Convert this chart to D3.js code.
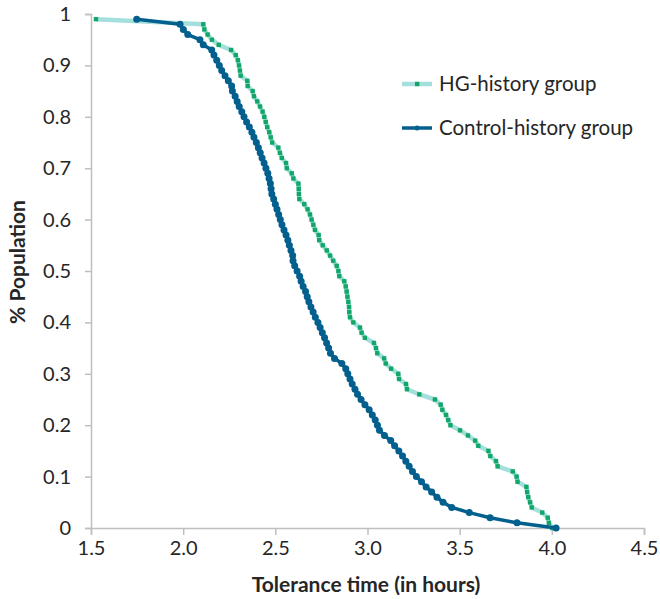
<!DOCTYPE html>
<html>
<head>
<meta charset="utf-8">
<script src="https://cdn.jsdelivr.net/npm/d3@7"></script>
<style>
  body { margin: 0; background: #fff; }
  svg text { font-family: Lato, "Open Sans", sans-serif; fill: #262626; }
</style>
</head>
<body>
<svg id="chart" width="660" height="599"></svg>
<script>
// survival fraction levels shared by both groups
var levels = [0.99, 0.98, 0.97, 0.96, 0.95, 0.94, 0.93, 0.92, 0.91, 0.90,
    0.89, 0.88, 0.87, 0.86, 0.85, 0.84, 0.83, 0.82, 0.81, 0.80,
    0.79, 0.78, 0.77, 0.76, 0.75, 0.74, 0.73, 0.72, 0.71, 0.70,
    0.69, 0.68, 0.67, 0.66, 0.65, 0.64, 0.63, 0.62, 0.61, 0.60,
    0.59, 0.58, 0.57, 0.56, 0.55, 0.54, 0.53, 0.52, 0.51, 0.50,
    0.49, 0.48, 0.47, 0.46, 0.45, 0.44, 0.43, 0.42, 0.41, 0.40,
    0.39, 0.38, 0.37, 0.36, 0.35, 0.34, 0.33, 0.32, 0.31, 0.30,
    0.29, 0.28, 0.27, 0.26, 0.25, 0.24, 0.23, 0.22, 0.21, 0.20,
    0.19, 0.18, 0.17, 0.16, 0.15, 0.14, 0.13, 0.12, 0.11, 0.10,
    0.09, 0.08, 0.07, 0.06, 0.05, 0.04, 0.03, 0.02, 0.01, 0.00];

// tolerance time (hours) for each level
var hgHours = [1.527, 2.109, 2.115, 2.133, 2.156, 2.193, 2.260, 2.285, 2.297, 2.303,
    2.308, 2.312, 2.348, 2.350, 2.377, 2.384, 2.402, 2.417, 2.431, 2.440,
    2.448, 2.456, 2.467, 2.475, 2.483, 2.516, 2.525, 2.535, 2.558, 2.562,
    2.589, 2.598, 2.625, 2.627, 2.628, 2.630, 2.657, 2.675, 2.688, 2.697,
    2.706, 2.715, 2.735, 2.738, 2.757, 2.779, 2.797, 2.814, 2.833, 2.842,
    2.847, 2.874, 2.882, 2.887, 2.891, 2.896, 2.900, 2.901, 2.905, 2.923,
    2.959, 2.968, 2.986, 3.035, 3.046, 3.053, 3.090, 3.099, 3.128, 3.167,
    3.171, 3.209, 3.214, 3.281, 3.366, 3.397, 3.406, 3.426, 3.438, 3.450,
    3.502, 3.545, 3.584, 3.601, 3.656, 3.666, 3.697, 3.706, 3.788, 3.809,
    3.814, 3.862, 3.866, 3.872, 3.882, 3.891, 3.948, 3.978, 3.984, 4.002];

var controlHours = [1.748, 1.983, 2.001, 2.025, 2.091, 2.109, 2.155, 2.167, 2.182, 2.196,
    2.209, 2.227, 2.245, 2.263, 2.267, 2.282, 2.293, 2.304, 2.318, 2.330,
    2.344, 2.359, 2.373, 2.384, 2.397, 2.408, 2.418, 2.428, 2.439, 2.449,
    2.459, 2.466, 2.473, 2.477, 2.481, 2.491, 2.500, 2.509, 2.518, 2.527,
    2.536, 2.547, 2.558, 2.568, 2.576, 2.585, 2.594, 2.596, 2.605, 2.618,
    2.632, 2.640, 2.651, 2.664, 2.673, 2.682, 2.693, 2.705, 2.717, 2.731,
    2.743, 2.755, 2.767, 2.778, 2.789, 2.799, 2.821, 2.861, 2.882, 2.893,
    2.905, 2.917, 2.932, 2.946, 2.965, 2.986, 3.009, 3.026, 3.042, 3.054,
    3.065, 3.092, 3.126, 3.147, 3.170, 3.190, 3.208, 3.226, 3.244, 3.265,
    3.293, 3.318, 3.348, 3.377, 3.410, 3.457, 3.552, 3.665, 3.811, 4.023];

var xTicks = [1.5, 2.0, 2.5, 3.0, 3.5, 4.0, 4.5];
var yTicks = [0, 0.1, 0.2, 0.3, 0.4, 0.5, 0.6, 0.7, 0.8, 0.9, 1];
var seriesNames = ["HG-history group", "Control-history group"];

var svg = d3.select("#chart");
var margin = { left: 91, right: 16, top: 14, bottom: 71 };
var width = 660 - margin.left - margin.right;
var height = 599 - margin.top - margin.bottom;

var g = svg.append("g")
    .attr("transform", "translate(" + margin.left + "," + margin.top + ")");

var x = d3.scaleLinear().domain([1.5, 4.5]).range([0, width]);
var y = d3.scaleLinear().domain([0, 1]).range([height, 0]);

// Axes
var xAxis = g.append("g")
    .attr("class", "x-axis")
    .attr("transform", "translate(0," + height + ")")
    .call(d3.axisBottom(x).tickValues(xTicks).tickFormat(d3.format(".1f")).tickSize(7).tickPadding(6));
var yAxis = g.append("g")
    .attr("class", "y-axis")
    .call(d3.axisLeft(y).tickValues(yTicks).tickFormat(function (d) { return d === 0 || d === 1 ? d : d3.format(".1f")(d); }).tickSize(6).tickPadding(14));

[xAxis, yAxis].forEach(function (a) {
    a.select(".domain").attr("stroke", "#bfbfbf").attr("stroke-width", 1.5);
    a.selectAll(".tick line").attr("stroke", "#bfbfbf").attr("stroke-width", 1.5);
    a.selectAll(".tick text").style("font-size", "20px").style("fill", "#262626");
});

// Axis titles
svg.append("text")
    .attr("x", 366).attr("y", 592)
    .attr("text-anchor", "middle")
    .style("font-size", "21px").style("font-weight", "bold")
    .text("Tolerance time (in hours)");
svg.append("text")
    .attr("transform", "translate(25,262) rotate(-90)")
    .attr("text-anchor", "middle")
    .style("font-size", "21px").style("font-weight", "bold")
    .text("% Population");

var line = d3.line()
    .x(function (d) { return x(d.t); })
    .y(function (d) { return y(d.p); });

var hgData = hgHours.map(function (t, i) { return { t: t, p: levels[i] }; });
var ctlData = controlHours.map(function (t, i) { return { t: t, p: levels[i] }; });

// HG-history group
g.append("path")
    .datum(hgData)
    .attr("d", line)
    .attr("fill", "none")
    .attr("stroke", "#a3dfdd")
    .attr("stroke-width", 4.5)
    .attr("stroke-linejoin", "round");
g.selectAll(".hg-pt")
    .data(hgData)
    .enter().append("rect")
    .attr("class", "hg-pt")
    .attr("x", function (d) { return x(d.t) - 2.2; })
    .attr("y", function (d) { return y(d.p) - 2.2; })
    .attr("width", 4.4)
    .attr("height", 4.4)
    .attr("fill", "#12a768");

// Control-history group
g.append("path")
    .datum(ctlData)
    .attr("d", line)
    .attr("fill", "none")
    .attr("stroke", "#035f8d")
    .attr("stroke-width", 3.5)
    .attr("stroke-linejoin", "round");
g.selectAll(".ctl-pt")
    .data(ctlData)
    .enter().append("circle")
    .attr("class", "ctl-pt")
    .attr("cx", function (d) { return x(d.t); })
    .attr("cy", function (d) { return y(d.p); })
    .attr("r", 3.5)
    .attr("fill", "#035f8d");

// Legend
var legend = svg.append("g").attr("class", "legend").attr("transform", "translate(402,84)");
legend.append("line").attr("x1", 0).attr("x2", 30).attr("y1", 0).attr("y2", 0)
    .attr("stroke", "#a3dfdd").attr("stroke-width", 4.5);
legend.append("rect").attr("x", 13).attr("y", -2.2).attr("width", 4.4).attr("height", 4.4)
    .attr("fill", "#12a768");
legend.append("text").attr("x", 37).attr("y", 7)
    .style("font-size", "20.5px").text(seriesNames[0]);
legend.append("line").attr("x1", 0).attr("x2", 30).attr("y1", 44).attr("y2", 44)
    .attr("stroke", "#035f8d").attr("stroke-width", 3.5);
legend.append("circle").attr("cx", 15).attr("cy", 44).attr("r", 2.5)
    .attr("fill", "#035f8d");
legend.append("text").attr("x", 37).attr("y", 51)
    .style("font-size", "20.5px").text(seriesNames[1]);
</script>
</body>
</html>
